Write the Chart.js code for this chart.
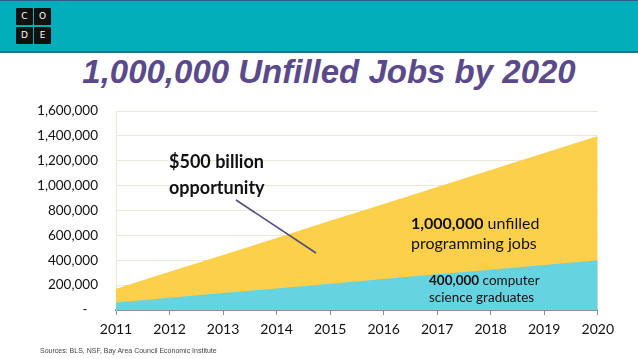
<!DOCTYPE html>
<html>
<head>
<meta charset="utf-8">
<script src="https://cdn.jsdelivr.net/npm/chart.js@4"></script>
<style>
  html, body { margin:0; padding:0; background:#fff; width:638px; height:359px; overflow:hidden; }
  body { position:relative; font-family: Lato, "Open Sans", sans-serif; }
  #header { position:absolute; left:0; top:0; width:638px; height:50px; background:#00adb9; border-top:1px solid #2a5f8a; border-bottom:2px solid #2a6a8e; }
  .sq { position:absolute; width:17px; height:17px; background:#111; border-radius:1px; color:#fff; font:9px "DejaVu Sans", sans-serif; text-align:center; line-height:17px; }
  #title { position:absolute; left:10px; width:638px; top:53px; text-align:center; font: italic bold 33px "Liberation Sans", Arial, sans-serif; color:#5a4a8c; }
  #chartBox { position:absolute; left:0; top:85px; width:620px; height:260px; }
  .ann { position:absolute; color:#111; font-family: Lato, sans-serif; white-space:nowrap; }
  #sources { position:absolute; left:40px; top:347px; font:7px "Liberation Sans", sans-serif; color:#444; }
  svg { position:absolute; left:0; top:0; }
</style>
</head>
<body>
<div id="header">
  <div class="sq" style="left:16px;top:7px">C</div>
  <div class="sq" style="left:34px;top:7px">O</div>
  <div class="sq" style="left:16px;top:26px">D</div>
  <div class="sq" style="left:34px;top:26px">E</div>
</div>
<div id="title">1,000,000 Unfilled Jobs by 2020</div>
<div id="chartBox"><canvas id="c"></canvas></div>
<svg width="638" height="359"><line x1="236" y1="200" x2="316" y2="253" stroke="#4e4a7e" stroke-width="1.5"/></svg>
<div class="ann" style="left:169px;top:148px;font-size:18px;font-weight:bold;line-height:26px">$500 billion<br>opportunity</div>
<div class="ann" style="left:411px;top:213px;font-size:16px;line-height:20px"><b>1,000,000</b> unfilled<br>programming jobs</div>
<div class="ann" style="left:429px;top:272px;font-size:13.5px;line-height:17px"><b>400,000</b> computer<br>science graduates</div>
<div id="sources">Sources: BLS, NSF, Bay Area Council Economic Institute</div>
<script>
const years = ["2011","2012","2013","2014","2015","2016","2017","2018","2019","2020"];
const csGraduates = [60000, 98000, 136000, 173000, 211000, 249000, 287000, 324000, 362000, 400000];
const totalJobs = [170000, 307000, 443000, 580000, 717000, 853000, 990000, 1127000, 1263000, 1400000];
const yTicks = [0, 200000, 400000, 600000, 800000, 1000000, 1200000, 1400000, 1600000];

new Chart(document.getElementById('c'), {
  type: 'line',
  data: {
    labels: years,
    datasets: [
      { label: 'CS graduates', data: csGraduates, fill: 'origin', backgroundColor: '#66d3e1', borderWidth: 0, pointRadius: 0, tension: 0, order: 0 },
      { label: 'Total jobs', data: totalJobs, fill: 'origin', backgroundColor: '#fdd04b', borderWidth: 0, pointRadius: 0, tension: 0, order: 1 }
    ]
  },
  options: {
    responsive: true,
    maintainAspectRatio: false,
    animation: false,
    devicePixelRatio: 1,
    layout: { padding: { top: 10, right: 20, left: 0, bottom: 0 } },
    plugins: { legend: { display: false }, tooltip: { enabled: false } },
    scales: {
      x: {
        offset: false,
        grid: { display: true, drawOnChartArea: false, drawTicks: true, tickLength: 5, color: '#8a9196' },
        border: { display: true, color: '#8a9196', width: 2 },
        ticks: { color: '#111', font: { family: 'Lato', size: 14 }, padding: 6, maxRotation: 0, autoSkip: false },
        afterFit: (s) => { s.height = 35; }
      },
      y: {
        min: 0, max: 1600000,
        afterBuildTicks: (s) => { s.ticks = yTicks.map(v => ({ value: v })); },
        grid: { color: '#ebe7da', lineWidth: 1, drawTicks: false },
        border: { display: true, color: '#ebe7da', width: 1 },
        ticks: {
          color: '#111', font: { family: 'Lato', size: 13.5 }, padding: 18,
          callback: (v) => v === 0 ? '-   ' : v.toLocaleString('en-US')
        },
        afterFit: (s) => { s.width = 116; }
      }
    }
  }
});
</script>
</body>
</html>
